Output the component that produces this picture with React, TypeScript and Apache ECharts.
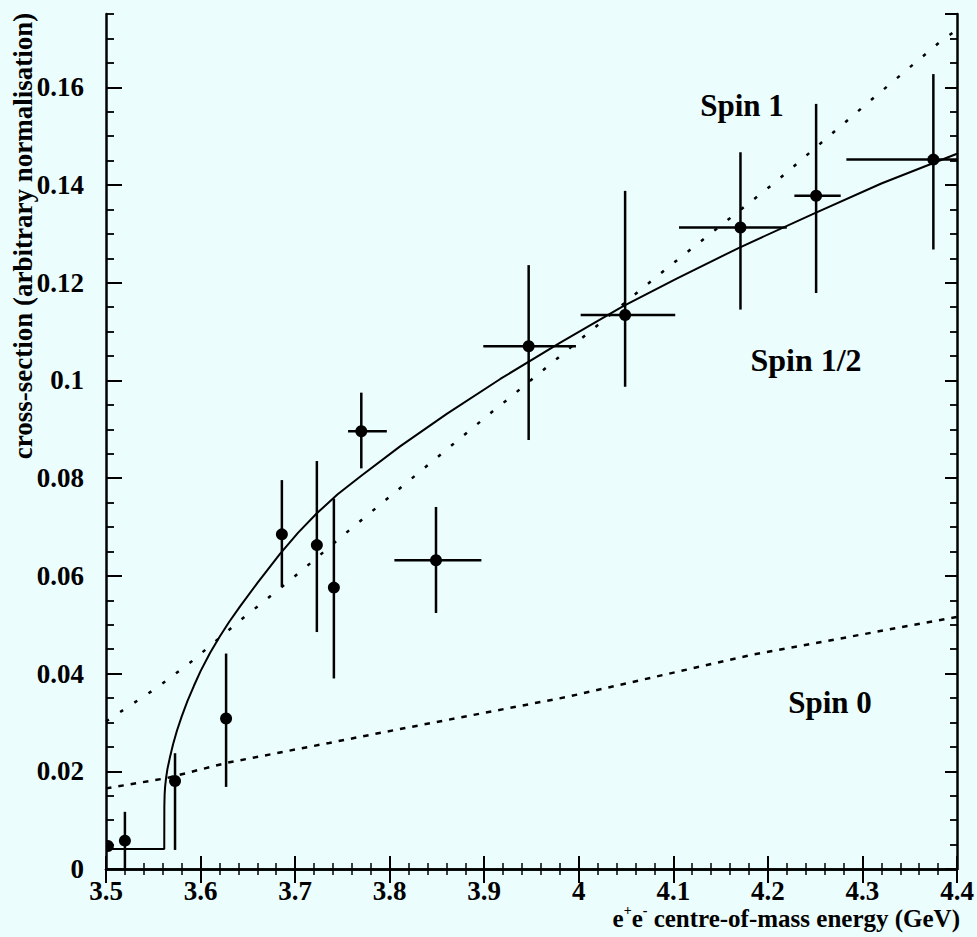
import React, { useEffect, useRef } from "react";
import * as echarts from "echarts";

// Measured points: e+e- centre-of-mass energy (GeV) and cross-section
const pointX = [3.502, 3.52, 3.573, 3.627, 3.686, 3.723, 3.741, 3.77, 3.849, 3.947, 4.049, 4.171, 4.251, 4.375];
const pointY = [0.0047, 0.0058, 0.018, 0.0308, 0.0685, 0.0663, 0.0576, 0.0896, 0.0632, 0.107, 0.1134, 0.1313, 0.1378, 0.1452];
const yLow: (number | null)[] = [null, 0.0, 0.0039, 0.0168, 0.0578, 0.0485, 0.039, 0.082, 0.0524, 0.0878, 0.0987, 0.1145, 0.1179, 0.1268];
const yHigh: (number | null)[] = [null, 0.0117, 0.0237, 0.0441, 0.0796, 0.0835, 0.0758, 0.0975, 0.0741, 0.1236, 0.1388, 0.1467, 0.1566, 0.1627];
const xLow: (number | null)[] = [null, null, null, null, null, null, null, 3.756, 3.805, 3.899, 4.002, 4.106, 4.228, 4.283];
const xHigh: (number | null)[] = [null, null, null, null, null, null, null, 3.797, 3.897, 3.997, 4.102, 4.22, 4.277, 4.4];

// Spin 1/2 prediction (solid), with the flat level below threshold
const spinHalfCurve: [number, number][] = [
  [3.5, 0.0041], [3.5616, 0.0041], [3.5617, 0.0128], [3.562, 0.0152], [3.5625, 0.0168],
  [3.5635, 0.0186], [3.565, 0.0205], [3.568, 0.0232], [3.571, 0.0256], [3.575, 0.0283],
  [3.58, 0.0312], [3.586, 0.0343], [3.593, 0.0375], [3.6, 0.0405], [3.61, 0.0442],
  [3.62, 0.0475], [3.63, 0.0505], [3.642, 0.0538], [3.66, 0.0585], [3.684, 0.0645],
  [3.703, 0.0688], [3.723, 0.0728], [3.745, 0.0767], [3.77, 0.0805], [3.811, 0.0865],
  [3.86, 0.0931], [3.917, 0.1003], [3.98, 0.1077], [4.047, 0.1152], [4.103, 0.1208],
  [4.17, 0.1272], [4.248, 0.1341], [4.32, 0.1403], [4.4, 0.1464],
];

// Spin 1 prediction (dotted)
const spinOneCurve: [number, number][] = [
  [3.5, 0.0302], [3.553, 0.037], [3.59, 0.0424], [3.642, 0.0509], [3.696, 0.0593],
  [3.765, 0.0706], [3.835, 0.0818], [3.906, 0.0932], [3.924, 0.096], [4.065, 0.1185],
  [4.1, 0.124], [4.208, 0.1406], [4.311, 0.1577], [4.382, 0.1693], [4.4, 0.1718],
];

// Spin 0 prediction (dashed)
const spinZeroCurve: [number, number][] = [
  [3.5, 0.0165], [3.564, 0.0186], [3.627, 0.0217], [3.736, 0.0258], [3.791, 0.0279],
  [3.987, 0.0352], [4.182, 0.0438], [4.4, 0.0516],
];

const curveLabels = ["Spin 1", "Spin 1/2", "Spin 0"];
const yTitle = "cross-section (arbitrary normalisation)";

const X_MIN = 3.5;
const X_MAX = 4.4;
const Y_MIN = 0;
const Y_MAX = 0.175;

const SERIF = '"Liberation Serif", "DejaVu Serif", serif';
const INK = "#000";
const BG = "#ebfdfd";

const fmt = (v: number) => String(parseFloat(v.toFixed(3)));

function curveLabel(text: string, x: number, y: number, size: number) {
  return {
    type: "text",
    x,
    y,
    style: {
      text,
      fontFamily: SERIF,
      fontWeight: "bold",
      fontSize: size,
      fill: INK,
      align: "center",
      verticalAlign: "middle",
    },
  };
}

export default function App() {
  const ref = useRef<HTMLDivElement>(null);

  useEffect(() => {
    if (!ref.current) return;
    const chart = echarts.init(ref.current, undefined, { renderer: "svg" });

    const tickLabel = {
      fontFamily: SERIF,
      fontWeight: "bold" as const,
      fontSize: 27,
      color: INK,
      formatter: fmt,
    };

    const option: any = {
      animation: false,
      backgroundColor: BG,
      grid: { left: 106, right: 20, top: 14, bottom: 68, containLabel: false },
      xAxis: [
        {
          type: "value",
          position: "bottom",
          min: X_MIN,
          max: X_MAX,
          interval: 0.1,
          axisLine: { show: true, lineStyle: { color: INK, width: 2.5 } },
          axisTick: { show: true, inside: true, length: 13, lineStyle: { color: INK, width: 2 } },
          minorTick: { show: true, splitNumber: 5, length: 6, lineStyle: { color: INK, width: 1.5 } },
          splitLine: { show: false },
          minorSplitLine: { show: false },
          axisLabel: { ...tickLabel, margin: 8, showMinLabel: true, showMaxLabel: true },
        },
        {
          type: "value",
          position: "top",
          min: X_MIN,
          max: X_MAX,
          interval: 0.1,
          axisLine: { show: true, lineStyle: { color: INK, width: 2.5 } },
          axisTick: { show: true, inside: true, length: 14, lineStyle: { color: INK, width: 2 } },
          minorTick: { show: true, splitNumber: 5, length: 6, lineStyle: { color: INK, width: 1.5 } },
          splitLine: { show: false },
          axisLabel: { show: false },
        },
      ],
      yAxis: [
        {
          type: "value",
          position: "left",
          min: Y_MIN,
          max: Y_MAX,
          interval: 0.02,
          axisLine: { show: true, lineStyle: { color: INK, width: 2.5 } },
          axisTick: { show: true, inside: true, length: 16, lineStyle: { color: INK, width: 2 } },
          splitLine: { show: false },
          axisLabel: { ...tickLabel, margin: 22, showMinLabel: true, showMaxLabel: false },
        },
        {
          type: "value",
          position: "left",
          min: Y_MIN,
          max: Y_MAX,
          interval: 0.005,
          axisLine: { show: false },
          axisTick: { show: true, inside: true, length: 8, lineStyle: { color: INK, width: 1.8 } },
          splitLine: { show: false },
          axisLabel: { show: false },
        },
        {
          type: "value",
          position: "right",
          min: Y_MIN,
          max: Y_MAX,
          interval: 0.02,
          axisLine: { show: true, lineStyle: { color: INK, width: 2.5 } },
          axisTick: { show: true, inside: true, length: 12, lineStyle: { color: INK, width: 2 } },
          splitLine: { show: false },
          axisLabel: { show: false },
        },
        {
          type: "value",
          position: "right",
          min: Y_MIN,
          max: Y_MAX,
          interval: 0.005,
          axisLine: { show: false },
          axisTick: { show: true, inside: true, length: 7, lineStyle: { color: INK, width: 1.8 } },
          splitLine: { show: false },
          axisLabel: { show: false },
        },
      ],
      series: [
        {
          name: "Spin 1/2",
          type: "line",
          data: spinHalfCurve,
          showSymbol: false,
          symbol: "none",
          clip: true,
          lineStyle: { color: INK, width: 2 },
          z: 3,
        },
        {
          name: "Spin 1",
          type: "line",
          data: spinOneCurve,
          showSymbol: false,
          symbol: "none",
          clip: true,
          lineStyle: { color: INK, width: 2.5, type: [3.5, 13.5] },
          z: 2,
        },
        {
          name: "Spin 0",
          type: "line",
          data: spinZeroCurve,
          showSymbol: false,
          symbol: "none",
          clip: true,
          lineStyle: { color: INK, width: 2.5, type: [5.5, 7] },
          z: 2,
        },
        {
          name: "data",
          type: "custom",
          clip: true,
          z: 4,
          data: pointX.map((x, i) => [x, pointY[i]]),
          encode: { x: 0, y: 1 },
          renderItem: (params: any, api: any) => {
            const i = params.dataIndex;
            const c = api.coord([pointX[i], pointY[i]]);
            const children: any[] = [];
            const lo = yLow[i];
            const hi = yHigh[i];
            if (lo !== null && hi !== null) {
              const pLo = api.coord([pointX[i], lo]);
              const pHi = api.coord([pointX[i], hi]);
              children.push({
                type: "line",
                shape: { x1: c[0], y1: pLo[1], x2: c[0], y2: pHi[1] },
                style: { stroke: INK, lineWidth: 2.5 },
              });
            }
            const xl = xLow[i];
            const xh = xHigh[i];
            if (xl !== null && xh !== null) {
              const pL = api.coord([xl, pointY[i]]);
              const pR = api.coord([xh, pointY[i]]);
              children.push({
                type: "line",
                shape: { x1: pL[0], y1: c[1], x2: pR[0], y2: c[1] },
                style: { stroke: INK, lineWidth: 2.5 },
              });
            }
            children.push({
              type: "circle",
              shape: { cx: c[0], cy: c[1], r: 6 },
              style: { fill: INK },
            });
            return { type: "group", children };
          },
        },
      ],
      graphic: [
        curveLabel(curveLabels[0], 742, 105, 31),
        curveLabel(curveLabels[1], 806, 360, 32),
        curveLabel(curveLabels[2], 830, 702, 31),
        {
          type: "text",
          x: 23,
          y: 236,
          rotation: Math.PI / 2,
          style: {
            text: yTitle,
            fontFamily: SERIF,
            fontWeight: "bold",
            fontSize: 27,
            fill: INK,
            align: "center",
            verticalAlign: "middle",
          },
        },
        {
          type: "text",
          x: 960,
          y: 918,
          style: {
            text: "{b|e}{s|+}{b|e}{s|-}{b| centre-of-mass energy (GeV)}",
            align: "right",
            verticalAlign: "middle",
            fill: INK,
            rich: {
              b: { fontFamily: SERIF, fontWeight: "bold", fontSize: 25, color: INK, lineHeight: 30 },
              s: {
                fontFamily: SERIF,
                fontWeight: "bold",
                fontSize: 14,
                color: INK,
                lineHeight: 14,
                verticalAlign: "top",
              },
            },
          },
        },
      ],
    };

    chart.setOption(option);
    return () => chart.dispose();
  }, []);

  return (
    <div
      ref={ref}
      style={{ position: "fixed", left: 0, top: 0, width: 977, height: 937, background: BG }}
    />
  );
}
